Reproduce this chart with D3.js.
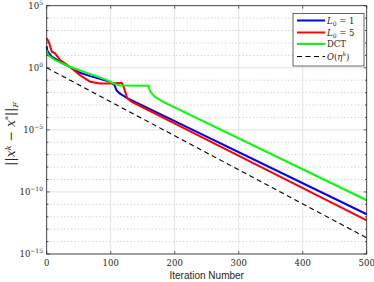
<!DOCTYPE html>
<html>
<head>
<meta charset="utf-8">
<script src="https://cdn.jsdelivr.net/npm/d3@7"></script>
<style>
  body { margin: 0; background: #fff; }
  text { fill: #262626; }
</style>
</head>
<body>
<svg id="mainsvg" width="374" height="282"></svg>
<script>
// iterations and log10 of the error
const blueIter = [0, 1, 8, 21, 36, 52, 68, 83, 99, 106, 109, 114, 125, 500];
const blueLog  = [1.75, 1.37, 0.89, 0.48, 0.08, -0.4, -0.67, -0.89, -1.13, -1.4, -1.8, -2.07, -2.42, -11.8];
const redIter  = [0, 2, 4, 8, 13, 21, 36, 52, 68, 83, 99, 117, 120, 126, 133, 500];
const redLog   = [2.37, 2.2, 1.97, 1.29, 1.16, 0.62, 0.08, -0.59, -1.13, -1.26, -1.26, -1.2, -1.5, -2.47, -2.74, -12.3];
const dctIter  = [0, 2, 13, 36, 68, 94, 104, 114, 159, 162, 169, 182, 500];
const dctLog   = [1.43, 1.02, 0.62, 0.08, -0.51, -0.99, -1.26, -1.42, -1.45, -1.94, -2.34, -2.74, -10.67];
const refIter  = [0, 500];
const refLog   = [0, -13.7];

const xTicks = [0, 100, 200, 300, 400, 500];
const yMajor = [5, 0, -5, -10, -15];
const yMinor = d3.range(-15, 6);

const series = [
  { name: "L0=1", iter: blueIter, lg: blueLog, color: "#0000ff", w: 2, dash: null },
  { name: "L0=5", iter: redIter, lg: redLog, color: "#ff0000", w: 2, dash: null },
  { name: "DCT", iter: dctIter, lg: dctLog, color: "#00ff00", w: 2, dash: null },
  { name: "O", iter: refIter, lg: refLog, color: "#000000", w: 1.1, dash: "5,3.5" }
];

const svg = d3.select("#mainsvg");
const L = 46.7, R = 366.7, T = 5.7, B = 254;
const x = d3.scaleLinear().domain([0, 500]).range([L, R]);
const y = d3.scaleLog().domain([1e-15, 1e5]).range([B, T]);
const serif = "'DejaVu Serif', 'Liberation Serif', serif";

// grid
const grid = svg.append("g");
grid.selectAll(".ymin").data(yMinor.filter(e => e % 5 !== 0)).join("line")
  .attr("x1", L).attr("x2", R)
  .attr("y1", d => y(Math.pow(10, d))).attr("y2", d => y(Math.pow(10, d)))
  .attr("stroke", "#b4b4b4").attr("stroke-width", 0.8).attr("stroke-dasharray", "1,2.5");
grid.selectAll(".ymaj").data(yMajor).join("line")
  .attr("x1", L).attr("x2", R)
  .attr("y1", d => y(Math.pow(10, d))).attr("y2", d => y(Math.pow(10, d)))
  .attr("stroke", "#e0e0e0").attr("stroke-width", 0.9);
grid.selectAll(".xg").data(xTicks).join("line")
  .attr("x1", d => x(d)).attr("x2", d => x(d))
  .attr("y1", T).attr("y2", B)
  .attr("stroke", "#e0e0e0").attr("stroke-width", 0.9);

// lines
const line = d3.line().x(d => x(d[0])).y(d => y(Math.pow(10, d[1])));
svg.append("g").selectAll("path").data(series).join("path")
  .attr("d", s => line(s.iter.map((v, i) => [v, s.lg[i]])))
  .attr("fill", "none")
  .attr("stroke", s => s.color)
  .attr("stroke-width", s => s.w)
  .attr("stroke-dasharray", s => s.dash);

// axes box
svg.append("rect").attr("x", L).attr("y", T).attr("width", R - L).attr("height", B - T)
  .attr("fill", "none").attr("stroke", "#262626").attr("stroke-width", 0.8);

const tk = svg.append("g").attr("stroke", "#262626").attr("stroke-width", 0.7);
xTicks.forEach(t => {
  tk.append("line").attr("x1", x(t)).attr("x2", x(t)).attr("y1", B).attr("y2", B - 3);
  tk.append("line").attr("x1", x(t)).attr("x2", x(t)).attr("y1", T).attr("y2", T + 3);
});
yMinor.forEach(e => {
  const len = e % 5 === 0 ? 3 : 1.8;
  const yy = y(Math.pow(10, e));
  tk.append("line").attr("x1", L).attr("x2", L + len).attr("y1", yy).attr("y2", yy);
  tk.append("line").attr("x1", R).attr("x2", R - len).attr("y1", yy).attr("y2", yy);
});

// tick labels
svg.append("g").selectAll("text").data(xTicks).join("text")
  .attr("x", d => x(d)).attr("y", 266)
  .attr("text-anchor", "middle")
  .attr("font-family", serif).attr("font-size", 8.5)
  .text(d => d);

const yl = svg.append("g").selectAll("text").data(yMajor).join("text")
  .attr("x", 43).attr("y", d => y(Math.pow(10, d)) + 3)
  .attr("text-anchor", "end")
  .attr("font-family", serif).attr("font-size", 8.5);
yl.append("tspan").text("10");
yl.append("tspan").attr("dy", -4).attr("font-size", 6).text(d => d < 0 ? "\u2212" + (-d) : d);

svg.append("text").attr("x", (L + R) / 2).attr("y", 279)
  .attr("text-anchor", "middle")
  .attr("font-family", "'Liberation Sans', Arial, sans-serif").attr("font-size", 10)
  .text("Iteration Number");

// y label
const ylab = svg.append("text")
  .attr("transform", `translate(15,${(T + B) / 2 + 4}) rotate(-90)`)
  .attr("text-anchor", "middle")
  .attr("font-family", serif).attr("font-size", 12.5);
ylab.append("tspan").text("||");
ylab.append("tspan").attr("font-style", "italic").text("x");
ylab.append("tspan").attr("dy", -4.5).attr("font-size", 8).attr("font-style", "italic").text("k");
ylab.append("tspan").attr("dy", 4.5).text(" \u2212 ");
ylab.append("tspan").attr("font-style", "italic").text("x");
ylab.append("tspan").attr("dy", -4.5).attr("font-size", 8).text("*");
ylab.append("tspan").attr("dy", 4.5).text("||");
ylab.append("tspan").attr("dy", 3).attr("font-size", 8).attr("font-style", "italic").text("F");

// legend
const lg = svg.append("g");
lg.append("rect").attr("x", 293).attr("y", 13.5).attr("width", 71).attr("height", 52.5)
  .attr("fill", "#fff").attr("stroke", "#262626").attr("stroke-width", 0.7);
const rowY = [20.5, 32.5, 44, 56.5];
series.forEach((s, i) => {
  lg.append("line").attr("x1", 297).attr("x2", 325).attr("y1", rowY[i]).attr("y2", rowY[i])
    .attr("stroke", s.color).attr("stroke-width", s.w).attr("stroke-dasharray", s.dash);
});
function lgText(i) {
  return lg.append("text").attr("x", 327).attr("y", rowY[i] + 3)
    .attr("font-family", serif).attr("font-size", 8.5);
}
let t0 = lgText(0);
t0.append("tspan").attr("font-style", "italic").text("L");
t0.append("tspan").attr("dy", 2).attr("font-size", 6).text("0");
t0.append("tspan").attr("dy", -2).text(" = 1");
let t1 = lgText(1);
t1.append("tspan").attr("font-style", "italic").text("L");
t1.append("tspan").attr("dy", 2).attr("font-size", 6).text("0");
t1.append("tspan").attr("dy", -2).text(" = 5");
lgText(2).text("DCT");
let t3 = lgText(3);
t3.append("tspan").attr("font-style", "italic").text("O");
t3.append("tspan").text("(");
t3.append("tspan").attr("font-style", "italic").text("\u03b7");
t3.append("tspan").attr("dy", -3.5).attr("font-size", 6).attr("font-style", "italic").text("k");
t3.append("tspan").attr("dy", 3.5).text(")");
</script>
</body>
</html>
